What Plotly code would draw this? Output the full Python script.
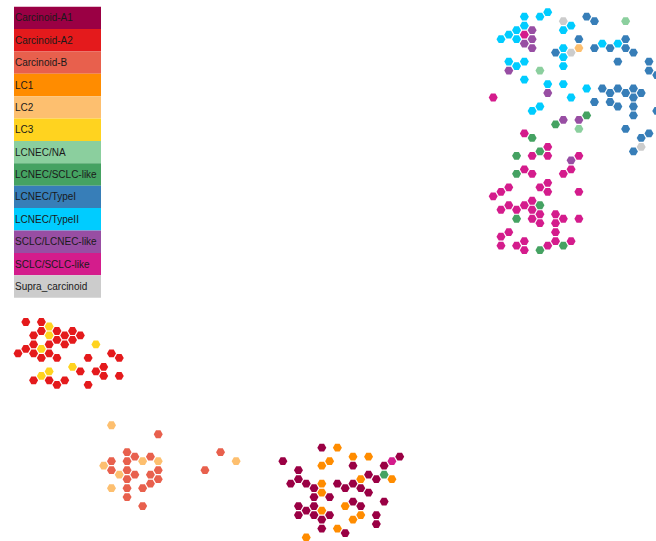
import plotly.graph_objects as go

# Legend categories and colours
categories = ["Carcinoid-A1", "Carcinoid-A2", "Carcinoid-B", "LC1", "LC2", "LC3",
              "LCNEC/NA", "LCNEC/SCLC-like", "LCNEC/TypeI", "LCNEC/TypeII",
              "SCLC/LCNEC-like", "SCLC/SCLC-like", "Supra_carcinoid"]
colors = ["#9A0044", "#E41A1C", "#E8604D", "#FF8C00", "#FDBF6F", "#FFD31F",
          "#8BCF9E", "#45A262", "#377EB8", "#00CCFF", "#984EA3", "#D41C8C", "#CCCCCC"]

# Hex-grid cells (column, half-row) per category
carcinoid_a1 = [(39,28),(34,31),(43,32),(49,30),(47,32),(46,35),(45,34),(36,33),(36,35),(35,36),
                (37,36),(38,37),(38,39),(40,39),(41,36),(42,37),(43,36),(44,37),(45,38),(43,40),
                (44,41),(47,40),(46,43),(46,45),(36,41),(36,43),(37,42),(38,41),(38,43),(39,44),
                (40,43),(39,46),(42,47)]
carcinoid_a2 = [(1,0),(3,0),(3,2),(2,3),(5,2),(7,2),(6,3),(8,3),(5,4),(7,4),(6,5),(4,5),(2,5),
                (1,6),(0,7),(2,7),(4,7),(3,8),(5,8),(9,8),(12,7),(13,8),(11,10),(10,11),(11,12),
                (13,12),(8,11),(2,13),(4,13),(5,14),(6,13),(9,14)]
carcinoid_b = [(18,25),(14,29),(15,30),(17,30),(12,31),(14,31),(12,33),(14,33),(15,34),(17,34),
               (18,33),(14,35),(17,36),(18,35),(16,37),(14,37),(14,39),(16,41),(26,29),(24,33)]
lc1 = [(41,28),(43,30),(45,30),(40,31),(39,32),(48,35),(44,35),(39,36),(39,38),(42,41),(44,43),
       (43,44),(39,42),(41,46),(37,48)]
lc2 = [(12,23),(16,31),(18,31),(11,32),(13,34),(12,37),(28,31),(72,-61)]
lc3 = [(4,1),(4,3),(3,6),(10,5),(7,10),(4,11),(3,12)]
lcnec_na = [(78,-67),(67,-56),(72,-43)]
lcnec_sclc_like = [(47,34),(69,-44),(73,-46),(66,-41),(67,-38),(64,-37),(64,-33),(67,-26),
                   (64,-23),(67,-16),(70,-17)]
lcnec_type1 = [(69,-60),(73,-68),(74,-67),(72,-63),(74,-61),(76,-61),(78,-63),(78,-61),(79,-60),
               (77,-58),(81,-58),(81,-56),(82,-55),(75,-52),(76,-51),(77,-52),(78,-51),(79,-52),
               (80,-51),(79,-50),(74,-49),(76,-49),(77,-48),(79,-48),(79,-46),(82,-47),(78,-43),
               (81,-42),(80,-41),(79,-38)]
lcnec_type2 = [(65,-68),(67,-68),(68,-69),(70,-65),(65,-66),(64,-65),(63,-64),(64,-63),(62,-63),
               (70,-61),(70,-59),(63,-58),(65,-58),(71,-66),(75,-62),(77,-62),(70,-57),(64,-57),
               (65,-54),(68,-53),(70,-53),(73,-52),(71,-50),(67,-48),(66,-47)]
sclc_lcnec_like = [(66,-65),(66,-63),(65,-62),(66,-61),(63,-56),(68,-51),(70,-45),(72,-45),(71,-36)]
sclc_sclc_like = [(48,31),(65,-64),(61,-50),(65,-42),(68,-39),(66,-37),(68,-37),(72,-37),(71,-34),
                  (70,-33),(65,-34),(66,-33),(68,-31),(67,-30),(68,-29),(63,-30),(62,-29),(61,-28),
                  (72,-29),(63,-26),(62,-25),(64,-25),(65,-26),(66,-27),(66,-25),(67,-24),(66,-23),
                  (67,-22),(69,-24),(70,-23),(69,-22),(72,-23),(69,-20),(63,-20),(62,-19),(62,-17),
                  (64,-17),(65,-18),(65,-16),(68,-17),(69,-18),(71,-18)]
supra_carcinoid = [(70,-67),(71,-60),(80,-39)]

series = [carcinoid_a1, carcinoid_a2, carcinoid_b, lc1, lc2, lc3, lcnec_na, lcnec_sclc_like,
          lcnec_type1, lcnec_type2, sclc_lcnec_like, sclc_sclc_like, supra_carcinoid]

W, H = 656, 541
DX, DY = 7.79, 4.49   # pixels per grid unit
X0, Y0 = 18.0, 322.0

fig = go.Figure()
for name, col, pts in zip(categories, colors, series):
    fig.add_trace(go.Scatter(
        x=[p[0] for p in pts], y=[p[1] for p in pts], mode="markers", name=name,
        marker=dict(symbol="hexagon2", size=9, color=col, line=dict(width=0)),
        showlegend=False, hoverinfo="name"))

xa = -X0 / DX
ya_top = -Y0 / DY
fig.update_xaxes(range=[xa, xa + W / DX], visible=False)
fig.update_yaxes(range=[ya_top + H / DY, ya_top], visible=False)

# Custom box legend
bx0, bx1, by0, bh = 14, 101, 6.7, 22.38
for i, (name, col) in enumerate(zip(categories, colors)):
    top = by0 + i * bh
    fig.add_shape(type="rect", xref="paper", yref="paper",
                  x0=bx0 / W, x1=bx1 / W, y0=1 - (top + bh) / H, y1=1 - top / H,
                  fillcolor=col, line=dict(width=0), layer="below")
    fig.add_annotation(xref="paper", yref="paper", x=(bx0 - 1) / W, y=1 - (top + bh / 2) / H,
                       text=name, showarrow=False, xanchor="left", yanchor="middle",
                       font=dict(family="Liberation Sans, Arial", size=10, color="#1a1a1a"))

fig.update_layout(width=W, height=H, margin=dict(l=0, r=0, t=0, b=0),
                  paper_bgcolor="white", plot_bgcolor="white")
fig.write_html("out.html")
